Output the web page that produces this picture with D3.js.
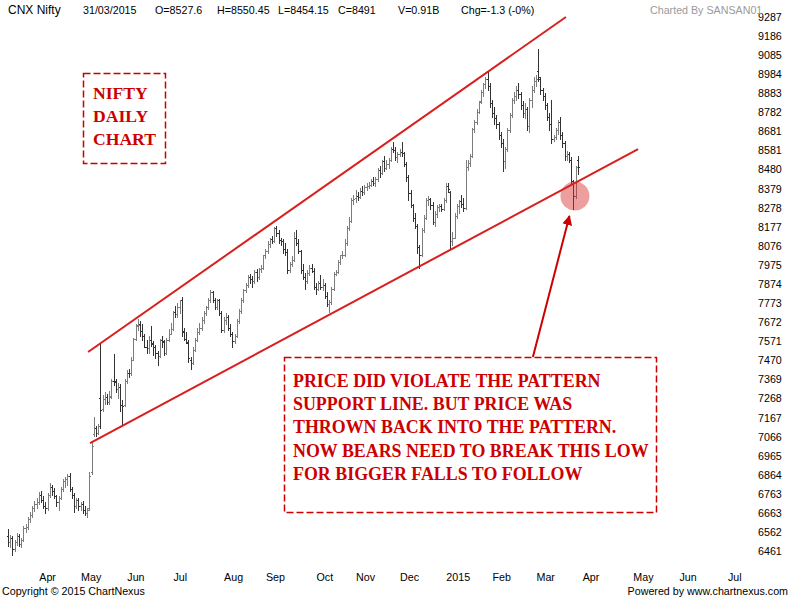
<!DOCTYPE html>
<html>
<head>
<meta charset="utf-8">
<script src="https://cdn.jsdelivr.net/npm/d3@7"></script>
<style>
  body { margin: 0; background: #fff; }
  svg { display: block; }
</style>
</head>
<body>
<svg id="chart" width="800" height="600"></svg>
<script>
// daily OHLC, CNX Nifty, mid-March 2014 .. 31/03/2015
const opens = [
  6540,6510,6530,6470,6510,6540,6500,6520,6585,6590,
  6630,6650,6690,6710,6720,6760,6730,6700,6690,6760,
  6800,6780,6750,6720,6740,6790,6830,6840,6860,6790,
  6760,6700,6730,6700,6710,6680,6660,6690,6880,7080,
  7110,7085,7270,7210,7265,7275,7250,7280,7360,7360,
  7320,7330,7235,7235,7362,7403,7402,7474,7583,7655,
  7660,7625,7600,7540,7535,7580,7560,7540,7510,7495,
  7580,7570,7510,7580,7612,7635,7725,7714,7750,7787,
  7620,7585,7560,7470,7455,7525,7580,7620,7640,7685,
  7720,7750,7790,7830,7790,7750,7790,7720,7630,7685,
  7700,7640,7610,7570,7600,7680,7730,7790,7840,7870,
  7910,7900,7890,7940,7910,7955,7960,8025,8050,8085,
  8110,8100,8170,8145,8105,8100,8060,8045,7950,7980,
  8000,8115,8090,8050,7950,7910,7890,7930,7960,7945,
  7860,7850,7880,7860,7870,7810,7770,7780,7850,7925,
  7935,7990,8025,8030,8090,8170,8210,8320,8330,8340,
  8335,8365,8360,8385,8390,8400,8420,8410,8430,8475,
  8460,8525,8490,8510,8530,8590,8585,8545,8560,8575,
  8565,8510,8440,8355,8290,8225,8180,8070,8030,8160,
  8225,8320,8325,8290,8200,8245,8280,8285,8270,8320,
  8395,8360,8100,8120,8235,8285,8315,8300,8275,8495,
  8515,8550,8695,8730,8785,8840,8890,8930,8960,8920,
  8830,8780,8750,8720,8660,8620,8525,8590,8690,8770,
  8850,8870,8900,8880,8820,8780,8800,8710,8850,8900,
  8950,9000,8960,8900,8870,8820,8760,8720,8640,8650,
  8690,8730,8660,8620,8550,8560,8530,8420,8340,8527.6
];
const highs = [
  6575,6545,6540,6520,6555,6550,6530,6595,6605,6640,
  6665,6700,6725,6740,6775,6780,6750,6720,6770,6820,
  6810,6795,6760,6750,6800,6840,6850,6870,6875,6800,
  6770,6740,6740,6720,6725,6700,6690,6880,7040,7170,
  7120,7135,7560,7285,7300,7290,7310,7370,7505,7370,
  7350,7345,7260,7370,7420,7425,7490,7590,7660,7690,
  7680,7660,7610,7580,7600,7650,7570,7550,7520,7585,
  7600,7580,7590,7635,7670,7730,7760,7775,7790,7805,
  7640,7620,7580,7490,7540,7590,7640,7665,7700,7730,
  7760,7800,7840,7835,7800,7795,7795,7730,7700,7720,
  7710,7660,7620,7610,7690,7740,7800,7850,7880,7920,
  7925,7915,7950,7955,7960,7975,8030,8060,8100,8120,
  8130,8175,8180,8160,8120,8110,8090,8060,7990,8020,
  8150,8160,8110,8055,7980,7930,7950,7975,7980,7960,
  7880,7890,7920,7900,7880,7830,7790,7860,7940,7950,
  8000,8030,8050,8110,8180,8230,8330,8345,8370,8360,
  8380,8390,8400,8410,8415,8430,8440,8440,8490,8500,
  8530,8550,8530,8540,8600,8625,8600,8570,8590,8625,
  8570,8520,8450,8370,8300,8250,8190,8080,8170,8240,
  8330,8340,8330,8310,8260,8290,8300,8300,8330,8410,
  8410,8365,8150,8250,8300,8320,8345,8330,8530,8530,
  8560,8700,8740,8800,8840,8900,8940,8970,8995,8940,
  8850,8810,8770,8730,8680,8640,8600,8700,8780,8860,
  8890,8920,8940,8890,8840,8830,8810,8860,8920,8970,
  8980,9120,8970,8910,8885,8830,8780,8850,8660,8700,
  8740,8760,8680,8630,8580,8570,8545,8425,8500,8550.45
];
const lows = [
  6490,6480,6440,6460,6495,6490,6480,6515,6560,6580,
  6615,6640,6675,6690,6710,6720,6690,6660,6680,6745,
  6760,6740,6700,6680,6735,6780,6800,6810,6780,6740,
  6670,6690,6680,6680,6660,6650,6640,6680,6870,7070,
  7070,7080,7110,7200,7240,7240,7240,7270,7340,7300,
  7270,7200,7135,7230,7350,7380,7390,7470,7580,7630,
  7600,7580,7540,7510,7510,7545,7500,7480,7445,7490,
  7540,7500,7505,7570,7610,7630,7700,7700,7720,7600,
  7580,7560,7460,7425,7450,7520,7570,7610,7630,7670,
  7710,7740,7780,7780,7740,7740,7710,7620,7620,7660,
  7630,7600,7540,7560,7595,7670,7720,7780,7830,7860,
  7880,7860,7880,7890,7900,7940,7955,8010,8040,8070,
  8090,8095,8130,8090,8080,8040,8030,7930,7940,7970,
  7995,8080,8040,7930,7900,7850,7880,7920,7940,7850,
  7820,7840,7850,7840,7800,7760,7725,7770,7840,7920,
  7930,7980,8010,8020,8080,8160,8200,8300,8310,8320,
  8330,8345,8350,8370,8380,8395,8400,8395,8420,8440,
  8455,8470,8480,8490,8525,8570,8530,8520,8550,8550,
  8500,8420,8320,8280,8210,8170,8040,7960,8020,8150,
  8220,8290,8270,8190,8180,8230,8260,8260,8265,8310,
  8360,8065,8080,8115,8225,8250,8280,8260,8270,8475,
  8500,8545,8680,8720,8780,8830,8870,8910,8900,8810,
  8760,8720,8700,8640,8600,8470,8490,8580,8680,8760,
  8830,8850,8860,8800,8760,8750,8690,8680,8810,8890,
  8920,8950,8880,8850,8800,8740,8690,8620,8630,8640,
  8670,8640,8600,8530,8530,8520,8400,8270,8330,8454.15
];
const closes = [
  6510,6530,6470,6510,6540,6500,6520,6585,6590,6630,
  6650,6690,6710,6720,6760,6730,6700,6690,6760,6800,
  6780,6750,6720,6740,6790,6830,6840,6860,6790,6760,
  6700,6730,6700,6710,6680,6660,6680,6860,7015,7110,
  7085,7125,7205,7265,7275,7252,7276,7360,7355,7318,
  7330,7235,7230,7362,7403,7402,7474,7583,7654,7656,
  7627,7600,7542,7533,7580,7558,7540,7511,7493,7580,
  7569,7508,7580,7611,7635,7725,7714,7751,7787,7623,
  7585,7567,7480,7455,7525,7580,7620,7640,7685,7720,
  7750,7790,7830,7790,7750,7790,7720,7630,7685,7700,
  7640,7610,7570,7600,7680,7730,7790,7840,7870,7910,
  7900,7890,7940,7910,7955,7960,8025,8050,8085,8110,
  8100,8170,8145,8105,8100,8060,8045,7950,7980,8000,
  8115,8090,8050,7950,7910,7890,7930,7960,7945,7860,
  7850,7880,7860,7870,7810,7770,7780,7850,7925,7935,
  7990,8025,8030,8090,8170,8210,8320,8325,8340,8335,
  8365,8360,8385,8390,8400,8420,8410,8430,8475,8460,
  8525,8490,8510,8530,8590,8585,8545,8560,8570,8565,
  8510,8440,8355,8290,8225,8180,8070,8030,8160,8225,
  8320,8325,8290,8200,8245,8280,8285,8270,8320,8395,
  8378,8100,8120,8235,8285,8315,8300,8275,8495,8515,
  8550,8695,8730,8785,8835,8890,8930,8960,8920,8830,
  8780,8750,8720,8660,8620,8525,8590,8690,8770,8850,
  8870,8900,8880,8820,8780,8800,8710,8850,8900,8950,
  8960,8970,8900,8870,8820,8760,8720,8640,8650,8690,
  8730,8660,8620,8550,8560,8530,8420,8340,8492,8491
];

// x axis: month names and the bar slot where each label starts
const monthLabels = ['Apr','May','Jun','Jul','Aug','Sep','Oct','Nov','Dec','2015','Feb','Mar','Apr','May','Jun','Jul'];
const monthSlots = [14, 33, 54, 75, 98, 117, 140, 158, 178, 199, 220, 240, 261, 284, 305, 327];

// y axis tick labels
const priceTicks = [9287,9186,9085,8984,8883,8782,8681,8581,8480,8379,8278,8177,8076,7975,
  7874,7773,7672,7571,7470,7369,7268,7167,7066,6965,6864,6763,6663,6562,6461];

// drawn trend lines [slot, price]
const upperLine = [[36.4, 7514], [253.6, 9287]];
const lowerLine = [[37.3, 7032], [286.4, 8588]];
const lowMark = [257.7, 8340];
const arrowFrom = [238.6, 7488];
const arrowTo = [255.2, 8234];

const headerItems = ['31/03/2015', 'O=8527.6', 'H=8550.45', 'L=8454.15', 'C=8491', 'V=0.91B', 'Chg=-1.3 (-0%)'];
const note1 = ['NIFTY', 'DAILY', 'CHART'];
const note2 = [
  'PRICE DID VIOLATE THE PATTERN',
  'SUPPORT LINE. BUT PRICE WAS',
  'THROWN BACK INTO THE PATTERN.',
  'NOW BEARS NEED TO BREAK THIS LOW',
  'FOR BIGGER FALLS TO FOLLOW',
];

const SVG = d3.select('#chart');
const RED = '#d91e1e';
const TEXT_RED = '#cc0000';
const SMALL = '10.7px';

const X = d3.scaleLinear().domain([0, 340]).range([8, 756]);
const Y = d3.scaleLinear().domain([6461, 9287]).range([551, 17]);

const bars = closes.map((c, i) => ({ i, o: opens[i], h: highs[i], l: lows[i], c }));

// OHLC bars
const BAR_G = SVG.append('g').attr('shape-rendering', 'crispEdges').attr('stroke-width', 1);
const px = (d) => Math.round(X(d.i)) + 0.5;
const py = (v) => Math.round(Y(v)) + 0.5;

const BAR = BAR_G.selectAll('g')
  .data(bars)
  .join('g')
  .attr('stroke', (d) => (d.c < d.o ? '#333333' : '#7c7c7c'));

BAR.append('line')
  .attr('x1', px).attr('x2', px)
  .attr('y1', (d) => Math.round(Y(d.h)))
  .attr('y2', (d) => Math.round(Y(d.l)) + 1);
BAR.append('line')
  .attr('x1', (d) => px(d) - 1.5).attr('x2', px)
  .attr('y1', (d) => py(d.o)).attr('y2', (d) => py(d.o));
BAR.append('line')
  .attr('x1', px).attr('x2', (d) => px(d) + 1.5)
  .attr('y1', (d) => py(d.c)).attr('y2', (d) => py(d.c));

// pattern lines
const line = d3.line().x((d) => X(d[0])).y((d) => Y(d[1]));
SVG.selectAll('path.trend')
  .data([upperLine, lowerLine])
  .join('path')
  .attr('class', 'trend')
  .attr('d', line)
  .attr('fill', 'none')
  .attr('stroke', RED)
  .attr('stroke-width', 2);

// circle on the false break
SVG.append('circle')
  .attr('cx', X(lowMark[0]))
  .attr('cy', Y(lowMark[1]))
  .attr('r', 14.5)
  .style('fill', 'rgba(214, 40, 40, 0.45)');

// arrow
SVG.append('defs').append('marker')
  .attr('id', 'head')
  .attr('viewBox', '0 0 10 10')
  .attr('refX', 9).attr('refY', 5)
  .attr('markerWidth', 5).attr('markerHeight', 5)
  .attr('markerUnits', 'strokeWidth')
  .attr('orient', 'auto')
  .append('path')
  .attr('d', 'M0,0 L10,5 L0,10 Z')
  .attr('fill', TEXT_RED);

SVG.append('line')
  .attr('x1', X(arrowFrom[0])).attr('y1', Y(arrowFrom[1]))
  .attr('x2', X(arrowTo[0])).attr('y2', Y(arrowTo[1]))
  .attr('stroke', TEXT_RED)
  .attr('stroke-width', 2)
  .attr('marker-end', 'url(#head)');

// note boxes
function noteBox(x, y, w, h, lines, tx, ty, step, size) {
  SVG.append('rect')
    .attr('x', x).attr('y', y).attr('width', w).attr('height', h)
    .attr('fill', '#fff')
    .attr('stroke', TEXT_RED)
    .attr('stroke-width', 1.5)
    .attr('stroke-dasharray', '7,3');
  SVG.append('g').selectAll('text')
    .data(lines)
    .join('text')
    .text((d) => d)
    .attr('x', tx)
    .attr('y', (d, i) => ty + i * step)
    .style('font-family', '"Liberation Serif", "Times New Roman", serif')
    .style('font-weight', 'bold')
    .style('font-size', size)
    .style('fill', TEXT_RED);
}
noteBox(83.5, 73.5, 82, 90, note1, 93, 99, 23, '17.6px');
noteBox(284.5, 357.5, 372, 155, note2, 293, 387, 23.2, '17.9px');

// axes
const Y_AXIS = SVG.append('g')
  .attr('transform', 'translate(757,0)')
  .call(d3.axisRight(Y).tickValues(priceTicks).tickSize(0).tickPadding(1).tickFormat((d) => d));
const X_AXIS = SVG.append('g')
  .attr('transform', 'translate(0,570)')
  .call(d3.axisBottom(X).tickValues(monthSlots).tickSize(0).tickPadding(3)
    .tickFormat((d, i) => monthLabels[i]));

[Y_AXIS, X_AXIS].forEach((a) => {
  a.select('.domain').remove();
  a.selectAll('text')
    .style('font-family', '"Liberation Sans", Arial, sans-serif')
    .style('font-size', SMALL)
    .style('fill', '#000');
});
X_AXIS.selectAll('text').attr('text-anchor', 'start');

// header
SVG.append('text')
  .text('CNX Nifty')
  .attr('x', 8).attr('y', 14)
  .style('font-family', '"Liberation Sans", Arial, sans-serif')
  .style('font-size', '12px');

const headerX = [83, 155, 217, 278, 338, 398, 461];
SVG.append('g').selectAll('text')
  .data(headerItems)
  .join('text')
  .text((d) => d)
  .attr('x', (d, i) => headerX[i])
  .attr('y', 14)
  .style('font-family', '"Liberation Sans", Arial, sans-serif')
  .style('font-size', SMALL);

SVG.append('text')
  .text('Charted By SANSAN01')
  .attr('x', 650).attr('y', 14)
  .style('font-family', '"Liberation Sans", Arial, sans-serif')
  .style('font-size', SMALL)
  .style('fill', '#9a9a9a');

// footer
SVG.append('text')
  .text('Copyright \u00a9 2015 ChartNexus')
  .attr('x', 2).attr('y', 595)
  .style('font-family', '"Liberation Sans", Arial, sans-serif')
  .style('font-size', SMALL);
SVG.append('text')
  .text('Powered by www.chartnexus.com')
  .attr('x', 788).attr('y', 595)
  .attr('text-anchor', 'end')
  .style('font-family', '"Liberation Sans", Arial, sans-serif')
  .style('font-size', SMALL);
</script>
</body>
</html>
